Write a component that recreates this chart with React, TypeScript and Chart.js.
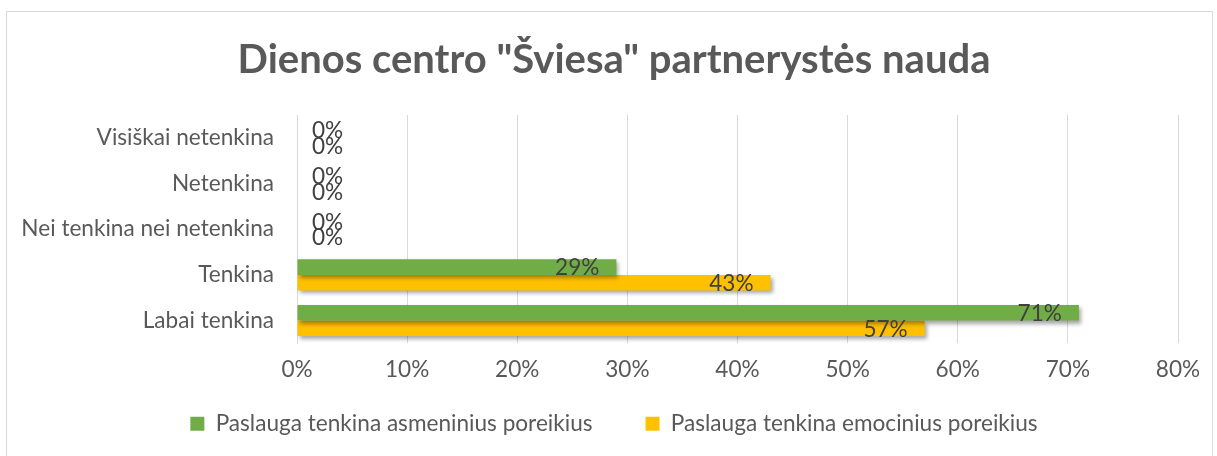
import React, { useEffect, useRef } from "react";
import { Chart, registerables } from "chart.js";

Chart.register(...registerables);

const titleText = 'Dienos centro "Šviesa" partnerystės nauda';
const categories = [
  "Visiškai netenkina",
  "Netenkina",
  "Nei tenkina nei netenkina",
  "Tenkina",
  "Labai tenkina",
];
const seriesNames = [
  "Paslauga tenkina asmeninius poreikius",
  "Paslauga tenkina emocinius poreikius",
];
const asmeniniai = [0, 0, 0, 29, 71];
const emociniai = [0, 0, 0, 43, 57];
const xMin = 0;
const xMax = 80;
const xStep = 10;

const FONT = "Lato";
const FS = 22.6;
const GREEN = "#70ad47";
const YELLOW = "#ffc000";

const framePlugin = {
  id: "frame",
  beforeDraw(chart: any) {
    const ctx = chart.ctx;
    ctx.save();
    ctx.fillStyle = "#ffffff";
    ctx.fillRect(0, 0, chart.width, chart.height);
    ctx.strokeStyle = "#d9d9d9";
    ctx.lineWidth = 1;
    ctx.strokeRect(6.5, 11.5, 1206, 470);
    ctx.restore();
  },
  beforeDatasetsDraw(chart: any) {
    const ctx = chart.ctx;
    ctx.save();
    ctx.shadowColor = "rgba(0,0,0,0.35)";
    ctx.shadowBlur = 4;
    ctx.shadowOffsetX = 2;
    ctx.shadowOffsetY = 3;
  },
  afterDatasetsDraw(chart: any) {
    const ctx = chart.ctx;
    ctx.restore();
    ctx.save();
    ctx.font = `${FS}px ${FONT}`;
    ctx.fillStyle = "#404040";
    ctx.textBaseline = "middle";
    chart.data.datasets.forEach((ds: any, di: number) => {
      const meta = chart.getDatasetMeta(di);
      meta.data.forEach((el: any, i: number) => {
        const v = ds.data[i];
        const label = `${v}%`;
        if (v === 0) {
          ctx.textAlign = "left";
          ctx.fillText(label, el.base + 15, el.y + 1);
        } else {
          ctx.textAlign = "right";
          ctx.fillText(label, el.x - 17, el.y + 1);
        }
      });
    });
    ctx.restore();
  },
};

export default function App() {
  const ref = useRef<HTMLCanvasElement | null>(null);
  useEffect(() => {
    if (!ref.current) return;
    const chart = new Chart(ref.current, {
      type: "bar",
      data: {
        labels: categories,
        datasets: [
          {
            label: seriesNames[0],
            data: asmeniniai,
            backgroundColor: GREEN,
            borderWidth: 0,
          },
          {
            label: seriesNames[1],
            data: emociniai,
            backgroundColor: YELLOW,
            borderWidth: 0,
          },
        ],
      },
      options: {
        indexAxis: "y",
        animation: false,
        responsive: false,
        maintainAspectRatio: false,
        layout: { padding: { left: 11, right: 0, top: 0, bottom: 11 } },
        datasets: {
          bar: { categoryPercentage: 0.68, barPercentage: 1 },
        },
        scales: {
          x: {
            min: xMin,
            max: xMax,
            ticks: {
              stepSize: xStep,
              callback: (v: any) => `${v}%`,
              color: "#595959",
              font: { family: FONT, size: FS },
              padding: -40,
              mirror: true,
            },
            grid: { color: "#d9d9d9", drawTicks: false, lineWidth: 1 },
            border: { display: false },
            afterFit: (s: any) => {
              s.height = 16;
            },
          },
          y: {
            ticks: {
              color: "#595959",
              font: { family: FONT, size: FS },
              padding: 23,
            },
            grid: { display: false, drawTicks: false },
            border: { display: true, color: "#d9d9d9" },
            afterFit: (s: any) => {
              s.width = 286;
            },
          },
          yRight: {
            type: "category",
            position: "right",
            display: true,
            ticks: { display: false },
            grid: { display: false, drawTicks: false },
            border: { display: false },
            afterFit: (s: any) => {
              s.width = 39;
            },
          },
        },
        plugins: {
          title: {
            display: true,
            text: titleText,
            color: "#595959",
            font: { family: FONT, size: 40, weight: "bold" },
            padding: { top: 36, bottom: 31 },
          },
          legend: {
            position: "bottom",
            labels: {
              color: "#595959",
              font: { family: FONT, size: FS },
              boxWidth: 14,
              boxHeight: 14,
              padding: 53,
            },
          },
          tooltip: { enabled: false },
        },
      } as any,
      plugins: [framePlugin],
    });
    return () => chart.destroy();
  }, []);
  return (
    <div style={{ position: "fixed", left: 0, top: 0, width: 1217, height: 456, background: "#fff" }}>
      <canvas ref={ref} width={1217} height={456} style={{ width: 1217, height: 456, display: "block" }} />
    </div>
  );
}
